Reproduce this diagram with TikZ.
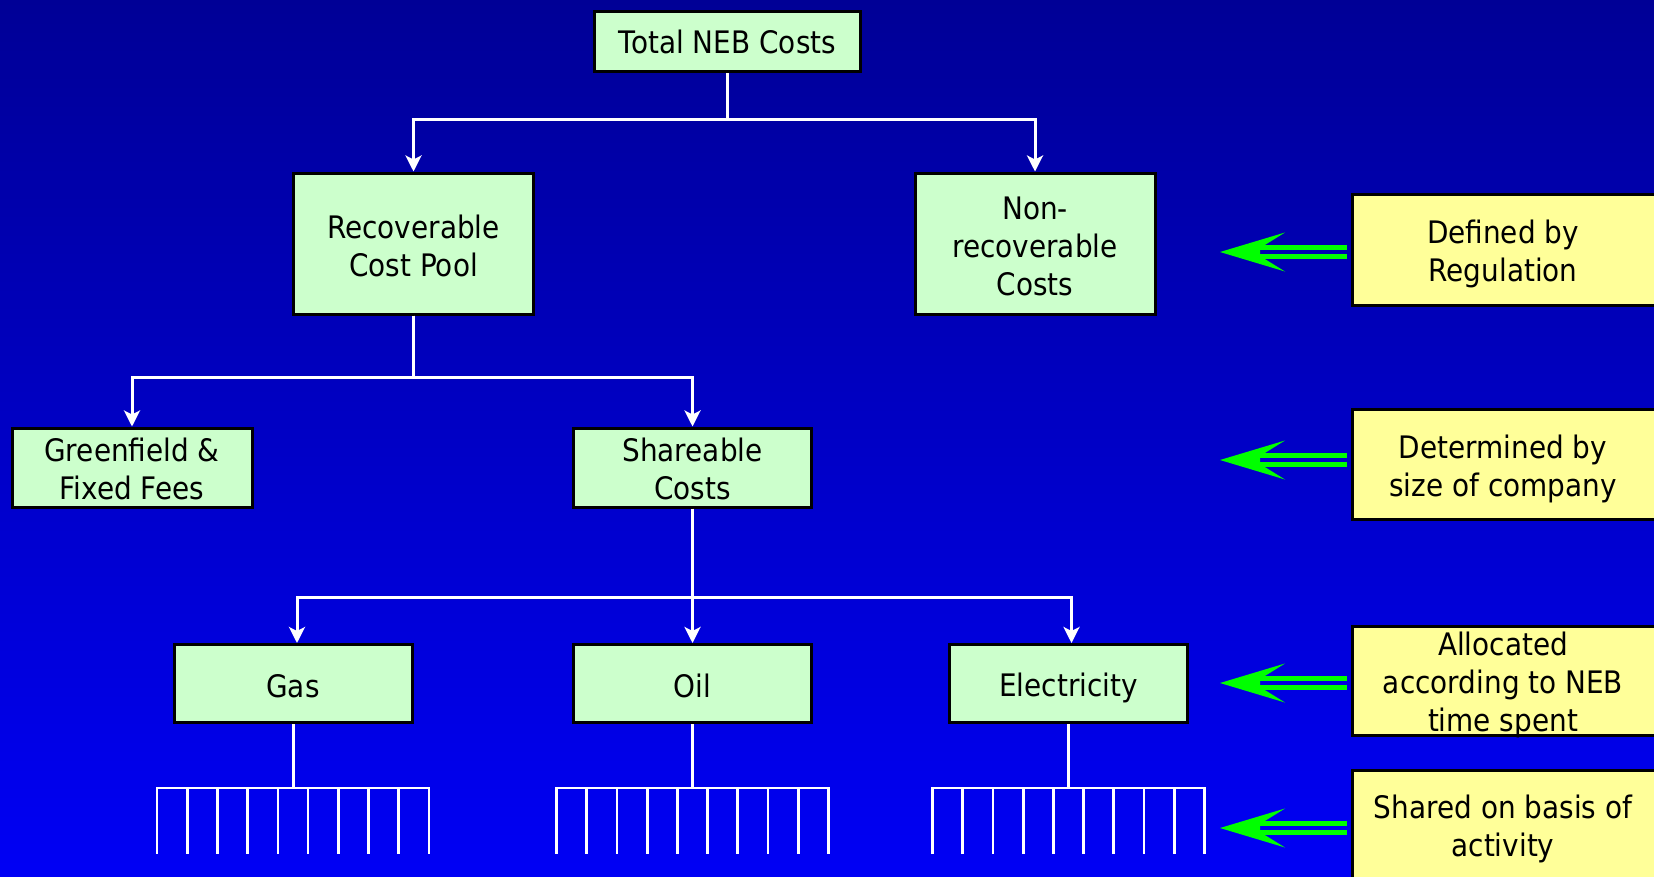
\documentclass[tikz,border=0pt]{standalone}
\usepackage{fontspec}
\setmainfont{DejaVu Sans}[FakeStretch=0.9]
\usetikzlibrary{arrows.meta,calc}
\definecolor{bgtop}{RGB}{0,0,150}
\definecolor{bgbot}{RGB}{0,0,245}
\definecolor{boxgreen}{RGB}{204,255,204}
\definecolor{boxyellow}{RGB}{255,255,153}
\definecolor{arrgreen}{RGB}{0,255,0}
\tikzset{
  gbox/.style={draw=black, line width=3pt, fill=boxgreen, inner sep=0pt},
  ybox/.style={draw=black, line width=3pt, fill=boxyellow, inner sep=0pt},
  tx/.style={align=center, text=black, inner sep=0pt},
  conn/.style={draw=white, line width=3pt},
  comb/.style={draw=white, line width=2.7pt, line cap=rect},
  arr/.style={conn, -{Stealth[length=16pt,width=16pt,inset=4pt]}},
  garrow/.pic={
    \fill[arrgreen] (-127,0) -- (-62,-19.5) -- (-87,-4) -- (-87,4) -- (-62,19.5) -- cycle;
    \fill[arrgreen] (-90,-7) rectangle (0,-2);
    \fill[arrgreen] (-90,2) rectangle (0,7);
  }
}
\begin{document}
\begin{tikzpicture}[x=1pt,y=-1pt,font=\fontsize{31}{38}\selectfont]
\shade[top color=bgtop,bottom color=bgbot] (0,0) rectangle (1654,876);
\useasboundingbox (0,0) rectangle (1654,876);

\node[gbox, minimum width=266pt, minimum height=60pt,
  label={[tx]center:Total NEB Costs}] (total) at (727.5,41.5) {};
\node[gbox, minimum width=240pt, minimum height=141pt,
  label={[tx,yshift=-2pt]center:{Recoverable\\Cost Pool}}] (rec) at (413.5,243.5) {};
\node[gbox, minimum width=240pt, minimum height=141pt,
  label={[tx,yshift=-3pt]center:{Non-\\recoverable\\Costs}}] (nonrec) at (1035,243.5) {};
\node[gbox, minimum width=240pt, minimum height=79pt,
  label={[tx,yshift=-1.5pt]center:{Greenfield \&\\Fixed Fees}}] (green) at (132,467.5) {};
\node[gbox, minimum width=238pt, minimum height=79pt,
  label={[tx,yshift=-1.5pt]center:{Shareable\\Costs}}] (share) at (692.5,467.5) {};
\node[gbox, minimum width=238pt, minimum height=78pt,
  label={[tx,yshift=-3pt]center:Gas}] (gas) at (293,683.5) {};
\node[gbox, minimum width=238pt, minimum height=78pt,
  label={[tx,yshift=-2pt]center:Oil}] (oil) at (692.5,683.5) {};
\node[gbox, minimum width=238pt, minimum height=78pt,
  label={[tx,yshift=-4.5pt]center:Electricity}] (elec) at (1068.5,683.5) {};

\node[ybox, minimum width=306pt, minimum height=111pt,
  label={[tx,xshift=-2pt,yshift=-4pt]center:{Defined by\\Regulation}}] (y1) at (1505,249.5) {};
\node[ybox, minimum width=306pt, minimum height=110pt,
  label={[tx,xshift=-2pt,yshift=-5pt]center:{Determined by\\size of company}}] (y2) at (1505,464) {};
\node[ybox, minimum width=306pt, minimum height=109pt,
  label={[tx,xshift=-2pt,yshift=-4pt]center:{Allocated\\according to NEB\\time spent}}] (y3) at (1505,681) {};
\node[ybox, minimum width=306pt, minimum height=113pt,
  label={[tx,xshift=-2pt,yshift=-2.5pt]center:{Shared on basis of\\activity}}] (y4) at (1505,826.5) {};

% top level
\draw[arr] (total.south) -- ++(0,46) -| (rec.north);
\draw[arr] (total.south) -- ++(0,46) -| (nonrec.north);
% recoverable
\draw[arr] (rec.south) -- ++(0,62) -| (green.north);
\draw[arr] (rec.south) -- ++(0,62) -| (share.north);
% shareable
\coordinate (sbus) at ($(share.south)+(0,89)$);
\draw[arr] (share.south) -- (oil.north);
\draw[arr] (sbus) -| ([xshift=4pt]gas.north);
\draw[arr] (sbus) -| ([xshift=3pt]elec.north);

% combs
\foreach \n in {gas,oil,elec}{
  \draw[conn] (\n.south) -- ++(0,64);
  \draw[comb] ($(\n.south)+(-136,64)$) -- ($(\n.south)+(136,64)$);
  \foreach \i in {0,...,9}{
    \draw[comb] ($(\n.south)+(-136+30.22*\i,64)$) -- ++(0,64.5);
  }
}

% green arrows
\pic at (1347,252) {garrow};
\pic at (1347,460) {garrow};
\pic at (1347,683) {garrow};
\pic at (1347,828) {garrow};
\end{tikzpicture}
\end{document}
